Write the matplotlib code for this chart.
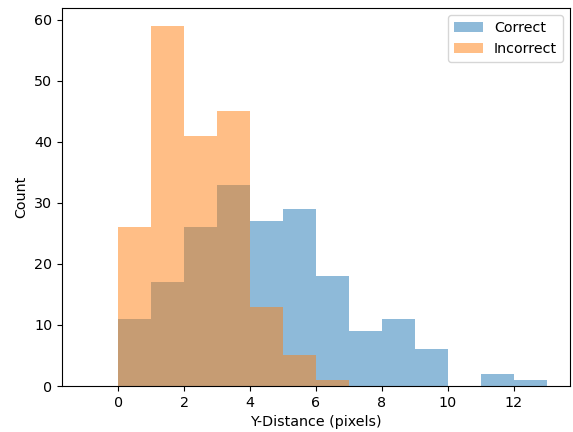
import numpy as np
import matplotlib
matplotlib.use('Agg')
from matplotlib import pyplot as plt

plt.rcParams['font.size'] = 10.3

# bin edges (pixels), first bin is empty
edges = np.arange(-1, 14)
correct = [0, 11, 17, 26, 33, 27, 29, 18, 9, 11, 6, 0, 2, 1]
incorrect = [0, 26, 59, 41, 45, 13, 5, 1, 0, 0, 0, 0, 0, 0]

centers = edges[:-1] + 0.5

fig = plt.figure(figsize=(5.73, 4.32), dpi=100)
ax = fig.add_axes([62/573, 1 - 386/432, (570 - 62)/573, (386 - 8)/432])

ax.hist(centers, bins=edges, weights=correct, alpha=0.5, label='Correct')
ax.hist(centers, bins=edges, weights=incorrect, alpha=0.5, label='Incorrect')

ax.set_xlabel('Y-Distance (pixels)')
ax.set_ylabel('Count')
ax.legend()

fig.savefig('out.png', dpi=100)
